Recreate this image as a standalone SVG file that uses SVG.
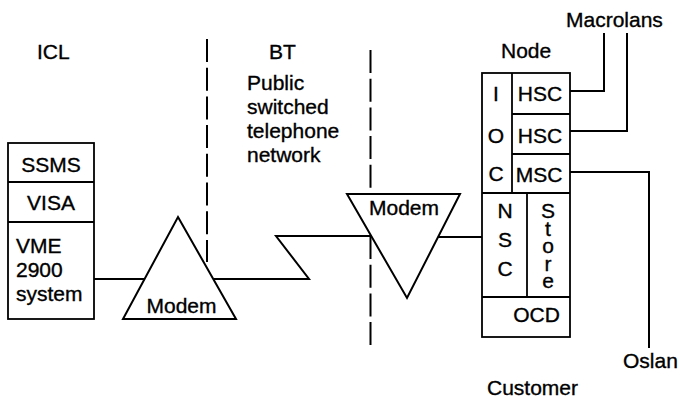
<svg xmlns="http://www.w3.org/2000/svg" width="681" height="400" viewBox="0 0 681 400">
<style>
text{font-family:"Liberation Sans",Arial,sans-serif;font-size:21px;fill:#000;stroke:#000;stroke-width:0.35}
.m{text-anchor:middle}
.ln{fill:none;stroke:#000;stroke-width:2;stroke-linejoin:miter}
.bx{fill:none;stroke:#000;stroke-width:1.8}
.dash{fill:none;stroke:#000;stroke-width:2;stroke-dasharray:23 5.7}
</style>
<rect width="681" height="400" fill="#fff"/>
<g id="labels">
<text x="37" y="59">ICL</text>
<text x="269" y="59">BT</text>
<text x="247" y="90">Public</text>
<text x="247" y="114">switched</text>
<text x="247" y="138">telephone</text>
<text x="247" y="162">network</text>
<text x="501" y="58">Node</text>
<text x="566" y="27">Macrolans</text>
<text x="623" y="368">Oslan</text>
<text x="487" y="395">Customer</text>
</g>
<g id="boundaries">
<line class="dash" x1="207" y1="39" x2="207" y2="262"/>
<line class="dash" x1="370.5" y1="50" x2="370.5" y2="188"/>
<line class="dash" x1="370.5" y1="236" x2="370.5" y2="347"/>
</g>
<g id="connectors">
<polyline class="ln" points="94,279 145,279"/>
<polyline class="ln" points="214,279 309,279 276,236 371,236"/>
<polyline class="ln" points="438,237 482,237"/>
<polyline class="ln" points="570,91 604,91 604,33"/>
<polyline class="ln" points="570,131 627,131 627,33"/>
<polyline class="ln" points="570,172 649,172 649,348"/>
</g>
<g id="icl-host">
<rect class="bx" x="8" y="143" width="86" height="176"/>
<line class="bx" x1="8" y1="182" x2="94" y2="182"/>
<line class="bx" x1="8" y1="222" x2="94" y2="222"/>
<text class="m" x="51" y="172">SSMS</text>
<text class="m" x="51" y="210">VISA</text>
<text x="16" y="253">VME</text>
<text x="16" y="277">2900</text>
<text x="16" y="301">system</text>
</g>
<g id="modem1">
<polygon class="ln" points="178,217 236,319 123,319"/>
<text class="m" x="181.5" y="313">Modem</text>
</g>
<g id="modem2">
<polygon class="ln" points="347,194 460,194 407,298"/>
<text class="m" x="404" y="215">Modem</text>
</g>
<g id="node">
<rect class="bx" x="482" y="73" width="88" height="264"/>
<line class="bx" x1="512" y1="73" x2="512" y2="193"/>
<line class="bx" x1="512" y1="114" x2="570" y2="114"/>
<line class="bx" x1="512" y1="154" x2="570" y2="154"/>
<line class="bx" x1="482" y1="193" x2="570" y2="193"/>
<line class="bx" x1="527" y1="193" x2="527" y2="297"/>
<line class="bx" x1="482" y1="297" x2="570" y2="297"/>
<text class="m" x="496" y="101">I</text>
<text class="m" x="496" y="143">O</text>
<text class="m" x="496" y="181">C</text>
<text class="m" x="540" y="101">HSC</text>
<text class="m" x="540" y="143">HSC</text>
<text class="m" x="539" y="182">MSC</text>
<text class="m" x="505" y="218">N<tspan x="505" y="247">S</tspan><tspan x="505" y="276">C</tspan></text>
<text class="m" x="548" y="218">S<tspan x="548" y="235.5">t</tspan><tspan x="548" y="253">o</tspan><tspan x="548" y="270.5">r</tspan><tspan x="548" y="288">e</tspan></text>
<text class="m" x="536.5" y="322">OCD</text>
</g>
</svg>
